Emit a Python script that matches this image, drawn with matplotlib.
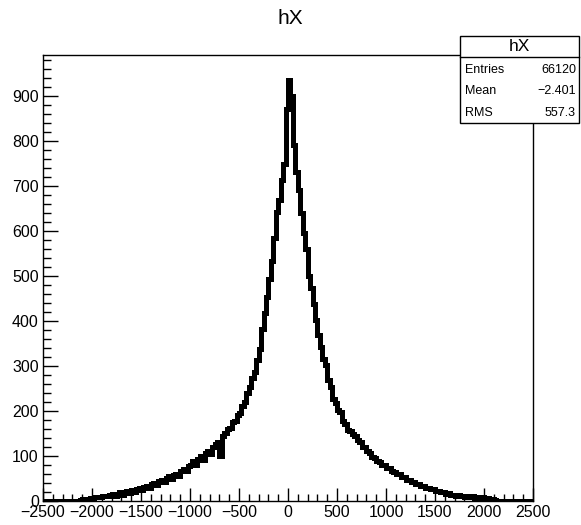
import numpy as np
import matplotlib
matplotlib.use("Agg")
import matplotlib.pyplot as plt
from matplotlib.patches import Rectangle
from matplotlib.lines import Line2D
from matplotlib.ticker import MultipleLocator

plt.rcParams['font.family'] = ['Liberation Sans', 'DejaVu Sans']

# ---- data ----
x_min, x_max, n_bins = -2500, 2500, 200
left_zeros = [0] * 14
left_counts = [1, 3, 4, 5, 5, 7, 6, 8, 9, 8,
               10, 12, 11, 13, 16, 12, 16, 19, 14, 19,
               22, 18, 25, 21, 27, 29, 25, 32, 34, 29,
               37, 40, 35, 44, 47, 42, 51, 55, 49, 58,
               61, 56, 67, 72, 66, 78, 81, 88, 80, 94,
               99, 92, 106, 112, 105, 120, 126, 132, 100, 145,
               151, 160, 163, 175, 178, 190, 196, 210, 220, 240,
               252, 272, 286, 312, 338, 382, 418, 452, 493, 532,
               583, 642, 668, 712, 748, 870]
right_counts = [935, 900, 790, 730, 690, 640, 595, 560, 500, 472,
                438, 402, 368, 342, 316, 302, 268, 252, 226, 217,
                203, 197, 178, 172, 158, 156, 148, 144, 136, 131,
                120, 119, 110, 107, 98, 96, 88, 87, 81, 79,
                73, 73, 66, 65, 59, 59, 53, 53, 47, 47,
                43, 42, 37, 37, 33, 33, 29, 29, 26, 26,
                22, 23, 19, 20, 16, 17, 13, 14, 11, 13,
                10, 12, 9, 11, 8, 10, 7, 9, 6, 8,
                5, 6, 4, 5, 3, 1]
right_zeros = [0] * 14
counts = np.array(left_zeros + left_counts + right_counts + right_zeros, dtype=float)
edges = np.linspace(x_min, x_max, n_bins + 1)

title = "hX"
stats_labels = ["Entries", "Mean", "RMS"]
stats_values = ["66120", "\u22122.401", "557.3"]
y_max = 990

# ---- figure ----
W, H = 581, 525
fig = plt.figure(figsize=(W / 100, H / 100), dpi=100)
ax = fig.add_axes([43 / W, 1 - 501 / H, 490 / W, 446 / H])

ax.stairs(counts, edges, color='black', linewidth=3.6, baseline=None)

ax.set_xlim(x_min, x_max)
ax.set_ylim(0, y_max)
ax.xaxis.set_major_locator(MultipleLocator(500))
ax.xaxis.set_minor_locator(MultipleLocator(100))
ax.yaxis.set_major_locator(MultipleLocator(100))
ax.yaxis.set_minor_locator(MultipleLocator(20))

ax.tick_params(which='both', direction='in', top=False, right=False,
               labelsize=11.5, width=1.0, color='black')
ax.tick_params(axis='y', which='major', length=10.8, pad=3)
ax.tick_params(axis='y', which='minor', length=5.4)
ax.tick_params(axis='x', which='major', length=9.4, pad=3)
ax.tick_params(axis='x', which='minor', length=4.7)
for s in ax.spines.values():
    s.set_linewidth(1.0)
    s.set_color('black')

fig.text(290 / W, 1 - 18 / H, title, ha='center', va='center', fontsize=15)

# ---- stats box ----
bx0, bx1, by0, by1, bsep = 460, 579, 36, 123, 57
fig.add_artist(Rectangle((bx0 / W, 1 - by1 / H), (bx1 - bx0) / W, (by1 - by0) / H,
                         transform=fig.transFigure, facecolor='white',
                         edgecolor='black', linewidth=1.0, zorder=10))
fig.add_artist(Line2D([bx0 / W, bx1 / W], [1 - bsep / H, 1 - bsep / H],
                      transform=fig.transFigure, color='black', linewidth=1.0, zorder=11))
fig.text((bx0 + bx1) / 2 / W, 1 - 46.5 / H, title, ha='center', va='center',
         fontsize=12.5, zorder=12)
row_y = [70, 91.5, 112.5]
for lab, val, yy in zip(stats_labels, stats_values, row_y):
    fig.text(465 / W, 1 - yy / H, lab, ha='left', va='center', fontsize=9, zorder=12)
    fig.text(576 / W, 1 - yy / H, val, ha='right', va='center', fontsize=9, zorder=12)

fig.savefig("out.png", dpi=100)
